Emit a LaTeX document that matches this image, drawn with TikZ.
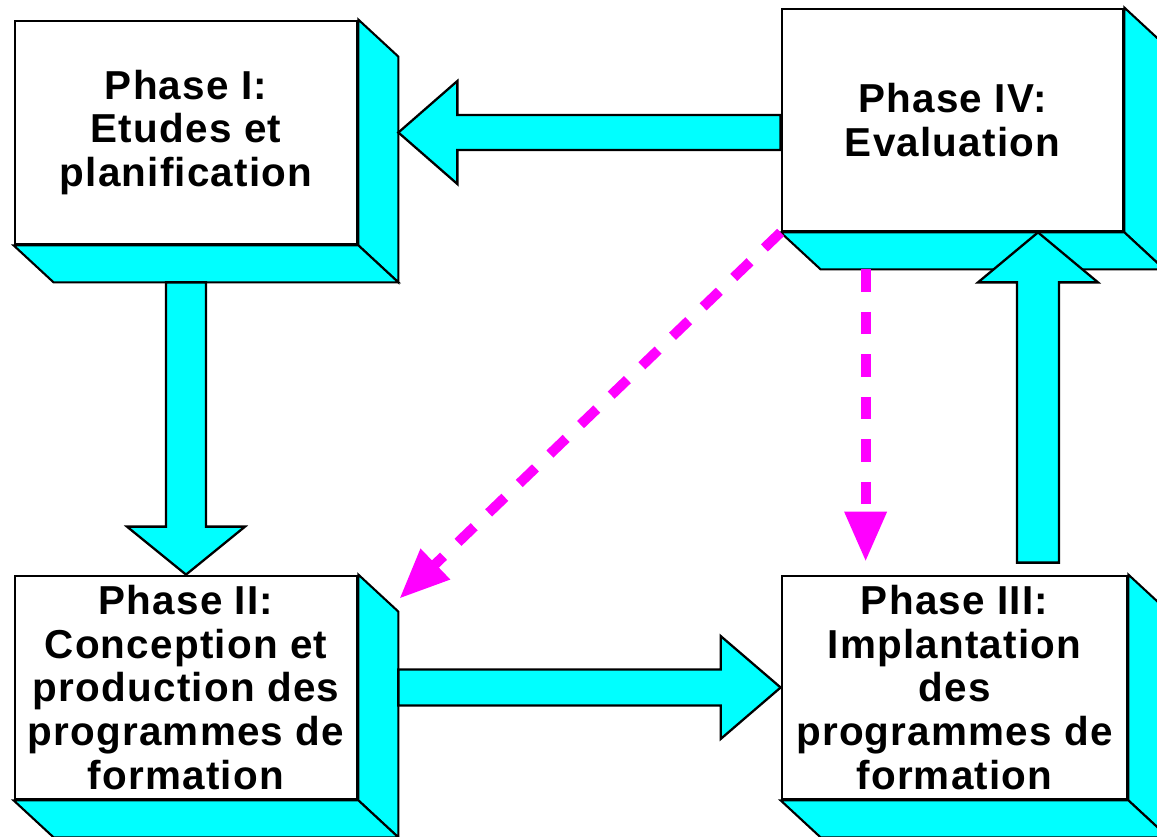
\documentclass[tikz,border=0pt]{standalone}
\usepackage{fontspec}
\setmainfont{Liberation Sans}[LetterSpace=3]
\usetikzlibrary{arrows.meta,calc}
\definecolor{boxcyan}{RGB}{0,255,255}
\definecolor{fbmagenta}{RGB}{255,0,255}

\begin{document}
\begin{tikzpicture}[
    x=0.02cm, y=-0.02cm,
    shaft/.store in=\shaftw, hwidth/.store in=\headw, hlength/.store in=\headl,
    phase/.style={draw, line width=1.6pt, fill=white, align=center, inner sep=0pt,
      font=\bfseries\fontsize{23}{25}\selectfont},
    face/.style={draw, fill=boxcyan, line width=1.2pt, line join=miter},
    fat/.style={draw, fill=boxcyan, line width=1.3pt, line join=miter,
      to path={($(\tikztotarget)!\headl!(\tikztostart)$) coordinate (fat-h)
        ($(\tikztostart)!\shaftw!90:(\tikztotarget)$)
        -- ($(fat-h)!\shaftw!90:(\tikztotarget)$)
        -- ($(fat-h)!\headw!90:(\tikztotarget)$)
        -- (\tikztotarget)
        -- ($(fat-h)!\headw!-90:(\tikztotarget)$)
        -- ($(fat-h)!\shaftw!-90:(\tikztotarget)$)
        -- ($(\tikztostart)!\shaftw!-90:(\tikztotarget)$) -- cycle}},
    feedback/.style={draw=fbmagenta, line width=0.2cm, dash pattern=on 0.45cm off 0.4cm,
      -{Triangle[length=1cm,width=0.8cm]}}
]
\useasboundingbox (0,0) rectangle (1157,836);
\clip (0,0) rectangle (1157,836);

% the four phases
\node[phase, minimum width=6.84cm, minimum height=4.46cm] (p1) at (186,132.5) {Phase I:\\Etudes et\\planification};
\node[phase, minimum width=6.82cm, minimum height=4.44cm] (p4) at (952.5,120) {Phase IV:\\Evaluation};
\node[phase, minimum width=6.84cm, minimum height=4.46cm] (p2) at (186,687.5) {Phase II:\\Conception et\\production des\\programmes de\\formation};
\node[phase, minimum width=6.9cm, minimum height=4.46cm] (p3) at (954.5,687.5) {Phase III:\\Implantation\\des\\programmes de\\formation};

% depth of the boxes
\foreach \b in {p1,p2,p3,p4}{
  \draw[face] (\b.north east) -- ++(40,37) -- ($(\b.south east)+(40,37)$) -- (\b.south east) -- cycle;
  \draw[face] (\b.south west) -- ++(40,37) -- ($(\b.south east)+(40,37)$) -- (\b.south east) -- cycle;
}

\coordinate (p1-foot) at ($(p1.south)+(0,37)$);
\coordinate (p1-side) at ($(p1.east)+(40,0)$);
\coordinate (p4-left) at (p4.west |- p1.east);
\coordinate (p2-side) at ($(p2.east)+(40,0)$);
\coordinate (p4-under) at ($(p4.south)+(85.5,0)$);
\coordinate (p3-over) at ($(p4-under |- p3.north)+(0,-12)$);
\coordinate (p2-corner) at ($(p2.north east)+(41,24)$);
\coordinate (p4-foot) at ($(p4.south west)+(85,37)$);
\coordinate (p3-top) at ($(p4.south west |- p3.north)+(85,-13)$);

% cycle of the phases
\draw[fat, shaft=0.4cm, hwidth=1.18cm, hlength=0.96cm] (p1-foot) to (p2.north);
\draw[fat, shaft=0.36cm, hwidth=1.03cm, hlength=1.2cm] (p2-side) to (p3.west);
\draw[fat, shaft=0.42cm, hwidth=1.2cm, hlength=1cm] (p3-over) to (p4-under);
\draw[fat, shaft=0.35cm, hwidth=1.03cm, hlength=1.18cm] (p4-left) to (p1-side);

% feedback of the evaluation
\draw[feedback] (p4.south west) -- (p2-corner);
\draw[feedback] (p4-foot) -- (p3-top);
\end{tikzpicture}
\end{document}
